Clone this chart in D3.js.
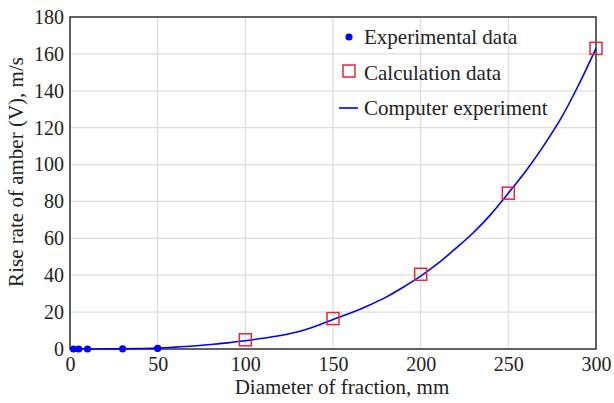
<!DOCTYPE html>
<html>
<head>
<meta charset="utf-8">
<script src="https://cdn.jsdelivr.net/npm/d3@7"></script>
<style>
  body { margin: 0; background: #fff; }
</style>
</head>
<body>
<div class="chart"></div>
<script>
var width = 614,
    height = 403;

// experimental points
var expX = [2, 5, 10, 30, 50];
var expY = [0, 0, 0, 0.1, 0.3];

// calculation points
var calcX = [100, 150, 200, 250, 300];
var calcY = [5, 16.5, 40.5, 84.5, 163];

// computer experiment curve
var curveX = [0, 10, 20, 30, 40, 50, 60, 70, 80, 90, 100, 110, 120, 130, 140, 150,
              160, 170, 180, 190, 200, 210, 220, 230, 240, 250, 260, 270, 280, 290, 300];
var curveY = [0, 0.02, 0.05, 0.1, 0.25, 0.5, 1.0, 1.6, 2.4, 3.3, 4.5, 5.8, 7.3, 9.3, 12.3, 16,
              19.5, 23.5, 28, 33.5, 39.5, 46.5, 54.5, 63, 73, 84.5, 96.5, 110, 125, 143, 163];

var xTicks = [0, 50, 100, 150, 200, 250, 300];
var yTicks = [0, 20, 40, 60, 80, 100, 120, 140, 160, 180];

var legendLabels = ["Experimental data", "Calculation data", "Computer experiment"];

var margin = {left: 70, right: 18, top: 17, bottom: 54};
var font = "Times New Roman, Liberation Serif, serif";
var fontSize = 21;

var x = d3.scaleLinear().domain([0, 300]).range([margin.left, width - margin.right]);
var y = d3.scaleLinear().domain([0, 180]).range([height - margin.bottom, margin.top]);

var svg = d3.select(".chart").append("svg")
    .attr("width", width)
    .attr("height", height)
    .attr("font-family", font)
    .attr("font-size", fontSize);

// grid
svg.append("g")
    .selectAll("line")
    .data(xTicks)
    .join("line")
    .attr("x1", d => x(d)).attr("x2", d => x(d))
    .attr("y1", y(0)).attr("y2", y(180))
    .style("stroke", "#dcdcdc").style("stroke-width", 1.2);

svg.append("g")
    .selectAll("line")
    .data(yTicks)
    .join("line")
    .attr("x1", x(0)).attr("x2", x(300))
    .attr("y1", d => y(d)).attr("y2", d => y(d))
    .style("stroke", "#dcdcdc").style("stroke-width", 1.2);

// frame
svg.append("rect")
    .attr("x", x(0)).attr("y", y(180))
    .attr("width", x(300) - x(0)).attr("height", y(0) - y(180))
    .style("fill", "none").style("stroke", "#333").style("stroke-width", 1.5);

// axes (labels only)
var xAxis = svg.append("g")
    .attr("transform", `translate(0, ${y(0)})`)
    .call(d3.axisBottom(x).tickValues(xTicks).tickSize(0).tickPadding(8));
var yAxis = svg.append("g")
    .attr("transform", `translate(${x(0)}, 0)`)
    .call(d3.axisLeft(y).tickValues(yTicks).tickSize(0).tickPadding(6));

[xAxis, yAxis].forEach(a => {
    a.attr("font-family", font).attr("font-size", 20);
    a.select(".domain").remove();
    a.selectAll("text").attr("fill", "#222");
});

// curve
var line = d3.line()
    .x(d => x(d[0]))
    .y(d => y(d[1]))
    .curve(d3.curveMonotoneX);

svg.append("path")
    .datum(d3.zip(curveX, curveY))
    .attr("d", line)
    .style("fill", "none")
    .style("stroke", "#0000ff")
    .style("stroke-width", 1.6);

// experimental dots
svg.append("g")
    .selectAll("circle")
    .data(d3.zip(expX, expY))
    .join("circle")
    .attr("cx", d => x(d[0]))
    .attr("cy", d => y(d[1]))
    .attr("r", 3.6)
    .style("fill", "#0000ff");

// calculation squares
var sq = 12;
svg.append("g")
    .selectAll("rect")
    .data(d3.zip(calcX, calcY))
    .join("rect")
    .attr("x", d => x(d[0]) - sq / 2)
    .attr("y", d => y(d[1]) - sq / 2)
    .attr("width", sq)
    .attr("height", sq)
    .style("fill", "none")
    .style("stroke", "#e8243c")
    .style("stroke-width", 1.5);

// legend
var legend = svg.append("g");
legend.append("circle")
    .attr("cx", 349).attr("cy", 37).attr("r", 3.6)
    .style("fill", "#0000ff");
legend.append("rect")
    .attr("x", 343).attr("y", 65).attr("width", 12).attr("height", 12)
    .style("fill", "none").style("stroke", "#e8243c").style("stroke-width", 1.5);
legend.append("line")
    .attr("x1", 339).attr("x2", 358).attr("y1", 108).attr("y2", 108)
    .style("stroke", "#0000ff").style("stroke-width", 1.6);

legend.selectAll("text")
    .data(legendLabels)
    .join("text")
    .attr("x", 364)
    .attr("y", (d, i) => 44 + i * 35.5)
    .attr("fill", "#222")
    .text(d => d);

// axis titles
svg.append("text")
    .attr("x", 342)
    .attr("y", 394)
    .attr("text-anchor", "middle")
    .attr("fill", "#222")
    .text("Diameter of fraction, mm");

svg.append("text")
    .attr("transform", "translate(23, 172) rotate(-90)")
    .attr("text-anchor", "middle")
    .attr("fill", "#222")
    .text("Rise rate of amber (V), m/s");
</script>
</body>
</html>
